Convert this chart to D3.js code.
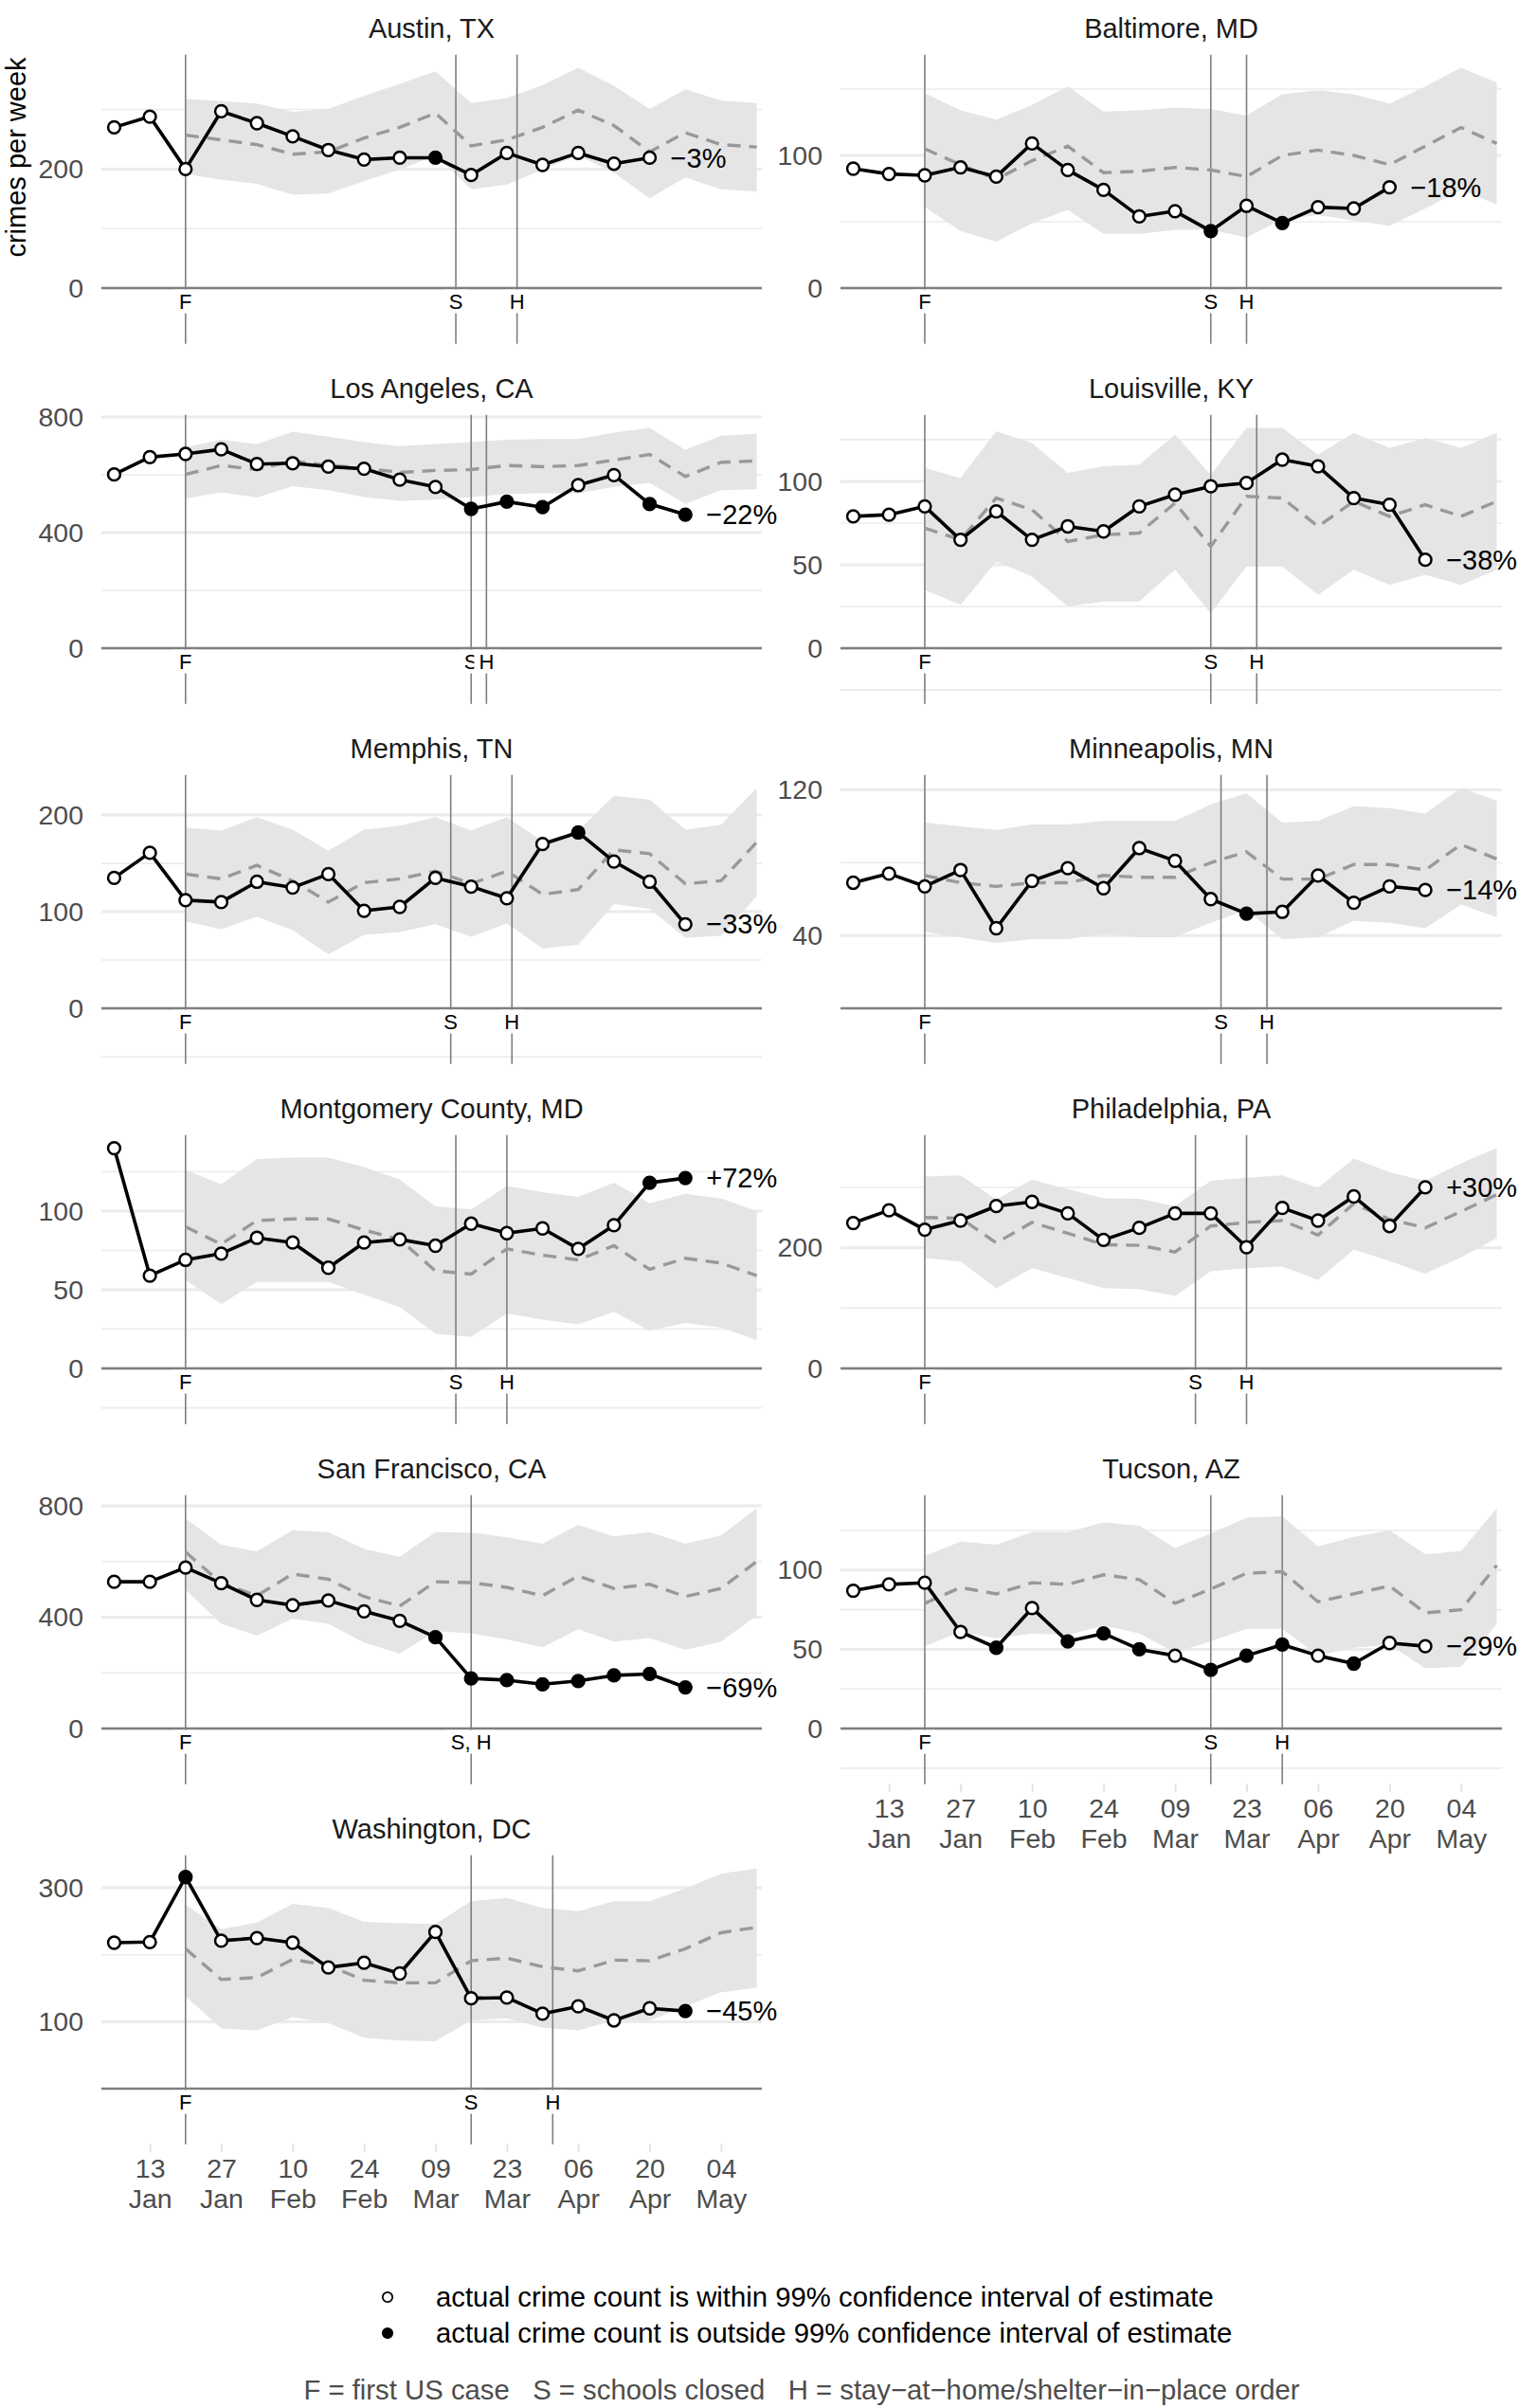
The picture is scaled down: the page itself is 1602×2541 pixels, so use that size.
<!DOCTYPE html>
<html><head><meta charset="utf-8">
<script src="https://cdn.jsdelivr.net/npm/d3@7"></script>
<style>
body{margin:0;background:#fff}
svg{display:block}
text{font-family:"Liberation Sans", Arial, Helvetica, sans-serif}
</style>
</head><body>
<svg id="chart" width="1602" height="2541"></svg>
<script>
// ---------------- DATA ----------------
const cities = ["Austin, TX","Baltimore, MD","Los Angeles, CA","Louisville, KY","Memphis, TN","Minneapolis, MN","Montgomery County, MD","Philadelphia, PA","San Francisco, CA","Tucson, AZ","Washington, DC"];

// week-start dates of the actual counts
const weeks = ["2020-01-06","2020-01-13","2020-01-20","2020-01-27","2020-02-03","2020-02-10","2020-02-17","2020-02-24","2020-03-02","2020-03-09","2020-03-16","2020-03-23","2020-03-30","2020-04-06","2020-04-13","2020-04-20","2020-04-27"];
// week-start dates of the model estimate
const estimateWeeks = ["2020-01-20","2020-01-27","2020-02-03","2020-02-10","2020-02-17","2020-02-24","2020-03-02","2020-03-09","2020-03-16","2020-03-23","2020-03-30","2020-04-06","2020-04-13","2020-04-20","2020-04-27","2020-05-04","2020-05-11"];

// actual crimes per week (one row per city, same order as cities)
const actualCounts = [
  [270,288,200,297,277,255,232,216,219,219,190,227,207,227,209,219],
  [90,86,85,91,84,109,89,74,54,58,43,62,49,61,60,76],
  [601,661,672,688,637,640,628,621,583,558,482,507,488,564,599,499,462],
  [79,80,85,65,82,65,73,70,85,92,97,99,113,109,90,86,53],
  [135,161,112,110,131,125,139,101,105,135,126,114,170,182,152,131,87],
  [69,74,67,76,44,70,77,66,88,81,60,52,53,73,58,67,65],
  [140,59,69,73,83,80,64,80,82,78,92,86,89,76,91,118,121],
  [241,262,230,245,269,276,257,213,233,257,257,201,266,245,285,236,300],
  [527,527,578,522,462,443,460,421,387,328,180,174,159,171,191,196,148],
  [87,91,92,61,51,76,55,60,50,46,37,46,53,46,41,54,52],
  [218,219,316,221,225,218,181,188,172,234,135,136,112,123,102,120,116]
];
// 1 = actual count outside the 99% confidence interval
const outsideCI = [
  [0,0,0,0,0,0,0,0,0,1,0,0,0,0,0,0],
  [0,0,0,0,0,0,0,0,0,0,1,0,1,0,0,0],
  [0,0,0,0,0,0,0,0,0,0,1,1,1,0,0,1,1],
  [0,0,0,0,0,0,0,0,0,0,0,0,0,0,0,0,0],
  [0,0,0,0,0,0,0,0,0,0,0,0,0,1,0,0,0],
  [0,0,0,0,0,0,0,0,0,0,0,1,0,0,0,0,0],
  [0,0,0,0,0,0,0,0,0,0,0,0,0,0,0,1,1],
  [0,0,0,0,0,0,0,0,0,0,0,0,0,0,0,0,0],
  [0,0,0,0,0,0,0,0,0,1,1,1,1,1,1,1,1],
  [0,0,0,0,1,0,1,1,1,0,1,1,1,0,1,0,0],
  [0,0,1,0,0,0,0,0,0,0,0,0,0,0,0,0,1]
];
// estimated crimes per week
const estimateMean = [
  [257,249,241,225,229,252,270,294,239,249,270,299,273,229,261,241,237],
  [105,93,82,96,107,87,88,91,89,84,100,104,100,93,107,121,109],
  [601,632,618,648,632,623,608,615,618,632,628,632,651,670,594,643,648],
  [72,65,90,83,64,68,69,87,61,91,90,73,88,79,86,79,88],
  [139,134,148,132,110,130,134,142,129,142,118,123,164,160,129,132,172],
  [73,69,67,69,69,73,72,72,80,86,71,71,79,79,76,90,82],
  [90,79,94,95,95,88,82,62,60,76,72,69,78,63,70,67,59],
  [250,249,208,242,224,205,204,193,236,242,245,221,273,247,233,260,288],
  [634,522,477,555,536,474,440,527,524,507,477,548,503,518,474,503,600],
  [79,89,85,92,91,97,94,79,88,98,99,80,85,90,73,75,103],
  [209,163,166,193,184,162,158,158,191,195,182,176,192,191,209,233,241]
];
// lower bound of 99% confidence interval
const estimateLower = [
  [192,182,175,157,159,180,199,223,166,174,199,223,194,151,186,166,162],
  [61,43,35,49,59,41,41,44,44,38,52,55,51,47,60,74,63],
  [518,539,521,561,547,523,510,514,523,534,536,536,558,572,499,547,550],
  [35,26,52,43,25,28,28,47,21,49,49,32,47,38,44,38,47],
  [90,82,95,81,56,76,79,87,74,88,62,66,108,103,73,75,116],
  [42,39,36,38,38,41,39,39,47,54,38,39,48,47,44,57,50],
  [56,41,55,55,55,47,39,22,20,35,31,28,36,24,29,26,18],
  [183,177,133,166,150,133,131,120,161,166,169,147,197,178,157,184,216],
  [499,376,334,395,376,309,269,350,342,320,292,357,312,325,283,312,406],
  [52,61,57,60,59,65,60,48,55,63,63,46,51,53,38,39,66],
  [138,90,87,107,98,76,72,71,102,105,91,87,102,102,123,144,151]
];
// upper bound of 99% confidence interval
const estimateUpper = [
  [318,314,310,296,301,323,343,364,311,319,341,370,340,301,334,315,311],
  [147,134,127,138,152,133,134,136,135,130,146,149,146,139,152,166,155],
  [695,721,706,749,732,713,699,706,713,721,724,724,746,762,686,735,742],
  [108,102,130,123,105,109,110,128,104,132,132,116,129,120,126,120,129],
  [187,184,198,185,163,185,189,198,184,198,173,184,220,216,185,190,228],
  [102,100,98,101,101,103,103,103,112,118,102,103,111,110,107,121,114],
  [126,117,133,134,134,128,120,103,101,116,112,109,118,105,111,108,100],
  [318,320,280,313,297,282,281,269,311,316,320,299,348,325,311,340,365],
  [754,660,636,712,705,645,617,705,704,687,664,732,690,705,664,693,791],
  [109,118,116,124,124,130,128,114,123,133,134,115,121,125,110,112,139],
  [275,238,248,276,270,249,247,246,280,285,270,265,280,280,299,321,329]
];
const changeLabels = ["\u22123%","\u221218%","\u221222%","\u221238%","\u221233%","\u221214%","+72%","+30%","\u221269%","\u221229%","\u221245%"];
const firstCase = "2020-01-20";
const schoolsClosed = ["2020-03-13","2020-03-16","2020-03-16","2020-03-16","2020-03-12","2020-03-18","2020-03-13","2020-03-13","2020-03-16","2020-03-16","2020-03-16"];
const stayHome = ["2020-03-25","2020-03-23","2020-03-19","2020-03-25","2020-03-24","2020-03-27","2020-03-23","2020-03-23","2020-03-16","2020-03-30","2020-04-01"];
const yBreaks = [[0,200],[0,100],[0,400,800],[0,50,100],[0,100,200],[40,120],[0,50,100],[0,200],[0,400,800],[0,50,100],[100,300]];
const xTickDates = ["2020-01-13","2020-01-27","2020-02-10","2020-02-24","2020-03-09","2020-03-23","2020-04-06","2020-04-20","2020-05-04"];
const legendLabels = ["actual crime count is within 99% confidence interval of estimate","actual crime count is outside 99% confidence interval of estimate"];
const captionText = "F = first US case   S = schools closed   H = stay\u2212at\u2212home/shelter\u2212in\u2212place order";

// ---------------- LAYOUT ----------------
const parse = d3.timeParse("%Y-%m-%d");
const xDomain = [new Date(2020,0,3,12), new Date(2020,4,12)];
const colX = [[107,804],[887,1585]];
const panelTop0 = 57.7, rowStep = 380, panelH = 305;
const svg = d3.select("#chart");
const GRID = "#EBEBEB";

cities.forEach((city, i) => {
  const col = i % 2, row = Math.floor(i / 2);
  const [x0, x1] = colX[col];
  const top = panelTop0 + rowStep * row, bottom = top + panelH;
  const x = d3.scaleTime().domain(xDomain).range([x0, x1]);
  const M = d3.max([...actualCounts[i], ...estimateUpper[i], ...estimateMean[i]]);
  const y = d3.scaleLinear().domain([-0.2522 * M, 1.0596 * M]).range([bottom, top]);
  const [dMin, dMax] = y.domain();
  const g = svg.append("g");

  // grid
  const majors = yBreaks[i];
  const step = majors[1] - majors[0];
  const minors = [];
  for (let v = majors[0] - step / 2; v <= dMax; v += step) if (v >= dMin) minors.push(v);
  g.append("g").selectAll("line").data(minors).join("line")
    .attr("x1", x0).attr("x2", x1).attr("y1", d => y(d)).attr("y2", d => y(d))
    .attr("stroke", GRID).attr("stroke-width", 1.6);
  g.append("g").selectAll("line").data(majors).join("line")
    .attr("x1", x0).attr("x2", x1).attr("y1", d => y(d)).attr("y2", d => y(d))
    .attr("stroke", GRID).attr("stroke-width", 3);

  // band
  const est = estimateWeeks.map((w, k) => ({date: parse(w), mean: estimateMean[i][k], lo: estimateLower[i][k], hi: estimateUpper[i][k]}));
  g.append("path").datum(est)
    .attr("d", d3.area().x(d => x(d.date)).y0(d => y(d.lo)).y1(d => y(d.hi)))
    .attr("fill", "#E5E5E5");

  // event lines
  const events = [{date: parse(firstCase), label: "F"}];
  if (schoolsClosed[i] === stayHome[i]) events.push({date: parse(schoolsClosed[i]), label: "S, H"});
  else { events.push({date: parse(schoolsClosed[i]), label: "S"}); events.push({date: parse(stayHome[i]), label: "H"}); }
  g.append("g").selectAll("line").data(events).join("line")
    .attr("x1", d => x(d.date)).attr("x2", d => x(d.date)).attr("y1", top).attr("y2", bottom)
    .attr("stroke", "#7F7F7F").attr("stroke-width", 1.6);

  // zero line
  g.append("line").attr("x1", x0).attr("x2", x1).attr("y1", y(0)).attr("y2", y(0))
    .attr("stroke", "#7F7F7F").attr("stroke-width", 2.4);

  // estimate dashed
  g.append("path").datum(est)
    .attr("d", d3.line().x(d => x(d.date)).y(d => y(d.mean)))
    .attr("fill", "none").attr("stroke", "#999999").attr("stroke-width", 3.4)
    .attr("stroke-dasharray", "14,9");

  // actual
  const act = actualCounts[i].map((v, k) => ({date: parse(weeks[k]), v, out: outsideCI[i][k]}));
  g.append("path").datum(act)
    .attr("d", d3.line().x(d => x(d.date)).y(d => y(d.v)))
    .attr("fill", "none").attr("stroke", "#000").attr("stroke-width", 3.6).attr("stroke-linejoin", "round");
  g.append("g").selectAll("circle").data(act).join("circle")
    .attr("cx", d => x(d.date)).attr("cy", d => y(d.v)).attr("r", 6.4)
    .attr("fill", d => d.out ? "#000" : "#fff").attr("stroke", "#000").attr("stroke-width", 2.5);

  // event labels
  const lg = g.append("g").selectAll("g").data(events).join("g")
    .attr("transform", d => `translate(${x(d.date)},${y(0) + 14})`);
  lg.append("rect").attr("x", d => -(d.label.length > 1 ? 27 : 13)).attr("width", d => d.label.length > 1 ? 54 : 26)
    .attr("y", -12.5).attr("height", 25).attr("fill", "#fff");
  lg.append("text").text(d => d.label).attr("text-anchor", "middle").attr("dy", "0.36em")
    .attr("font-size", 22).attr("fill", "#000");

  // percent label
  const last = act[act.length - 1];
  g.append("text").attr("x", x(last.date) + 22).attr("y", y(last.v)).attr("dy", "0.35em")
    .attr("font-size", 29).attr("fill", "#000").text(changeLabels[i]);

  // y axis
  const ya = g.append("g").attr("transform", `translate(${x0},0)`)
    .call(d3.axisLeft(y).tickValues(majors).tickSize(0).tickPadding(19).tickFormat(d3.format("d")));
  ya.select(".domain").remove();
  ya.selectAll("text").attr("font-size", 28.5).attr("fill", "#4D4D4D").attr("font-family", null);

  // strip title
  g.append("text").attr("x", (x0 + x1) / 2).attr("y", top - 27.7).attr("dy", "0.35em")
    .attr("text-anchor", "middle").attr("font-size", 29).attr("fill", "#1A1A1A").text(city);

  // bottom x axis on last panel of each column
  if (i >= cities.length - 2) {
    const xa = g.append("g").attr("transform", `translate(0,${bottom})`)
      .call(d3.axisBottom(x).tickValues(xTickDates.map(parse)).tickSize(8).tickFormat(d3.timeFormat("%d")));
    xa.select(".domain").remove();
    xa.selectAll(".tick line").attr("stroke", "#E3E3E3").attr("stroke-width", 2);
    const fmtMon = d3.timeFormat("%b"), fmtDay = d3.timeFormat("%d");
    xa.selectAll(".tick text").each(function(d) {
      const t = d3.select(this).attr("y", null).attr("dy", null).text(null)
        .attr("font-size", 28.5).attr("fill", "#4D4D4D").attr("font-family", null);
      t.append("tspan").attr("x", 0).attr("y", 25).attr("dy", "0.35em").text(fmtDay(d));
      t.append("tspan").attr("x", 0).attr("y", 57).attr("dy", "0.35em").text(fmtMon(d));
    });
  }
});

// y axis title
svg.append("text").attr("transform", "translate(17,166) rotate(-90)").attr("text-anchor", "middle")
  .attr("dy", "0.35em").attr("font-size", 29).attr("fill", "#000").text("crimes per week");

// legend
const leg = svg.append("g");
leg.selectAll("circle").data(legendLabels).join("circle")
  .attr("cx", 409).attr("cy", (d, k) => 2424 + 38 * k).attr("r", 5.2)
  .attr("fill", (d, k) => k ? "#000" : "#fff").attr("stroke", "#000").attr("stroke-width", 1.8);
leg.selectAll("text").data(legendLabels).join("text")
  .attr("x", 460).attr("y", (d, k) => 2424 + 38 * k).attr("dy", "0.35em")
  .attr("font-size", 29.3).attr("fill", "#000").text(d => d);

// caption
svg.append("text").attr("x", 846).attr("y", 2522).attr("dy", "0.35em").attr("text-anchor", "middle")
  .attr("font-size", 29.3).attr("fill", "#4D4D4D").style("white-space", "pre").text(captionText);
</script>
</body></html>
